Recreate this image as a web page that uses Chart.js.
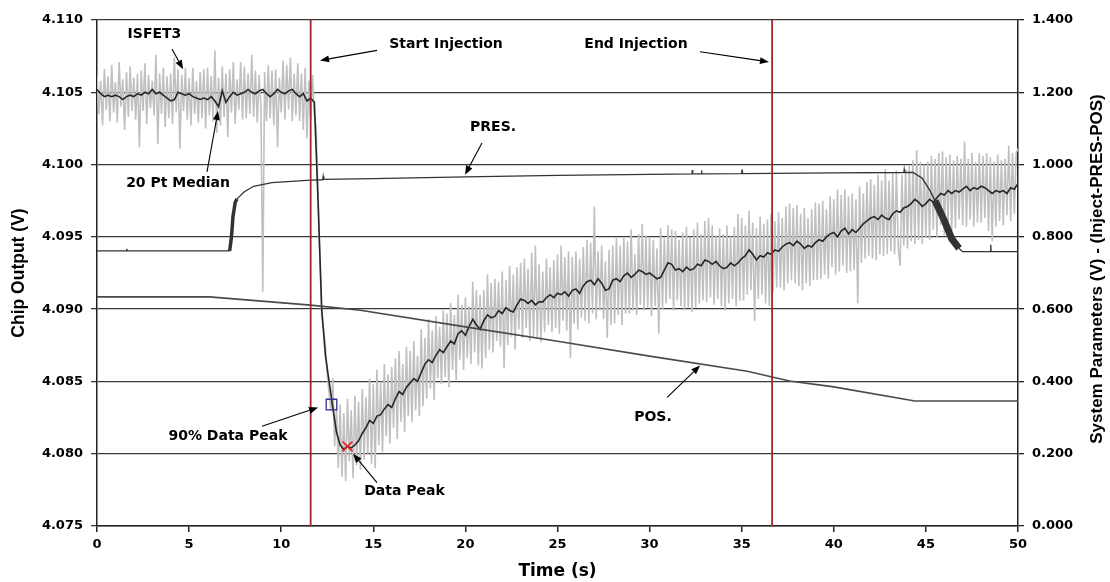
<!DOCTYPE html>
<html>
<head>
<meta charset="utf-8">
<script src="https://cdn.jsdelivr.net/npm/chart.js@4.4.1/dist/chart.umd.min.js"></script>
<style>
  html, body { margin: 0; padding: 0; background: #fff; }
</style>
</head>
<body>
<canvas id="chart" width="1110" height="582"></canvas>
<script>
// sample grids: raw trace every 0.1 s, median every 0.2 s, 0 to 50 s
const rawTimes = Array.from({ length: 501 }, (_, i) => i / 10);
const medianTimes = Array.from({ length: 251 }, (_, i) => i / 5);

// ISFET3 raw output (V), one row per second (t = k.0 ... k.9)
const isfetRaw = [
  4.1062,4.1035,4.1058,4.1027,4.1066,4.1038,4.1061,4.1030,4.1069,4.1036,
  4.1057,4.1029,4.1071,4.1040,4.1059,4.1024,4.1064,4.1033,4.1068,4.1037,
  4.1060,4.1031,4.1063,4.1012,4.1065,4.1037,4.1070,4.1028,4.1062,4.1039,
  4.1058,4.1034,4.1076,4.1014,4.1063,4.1035,4.1067,4.1026,4.1061,4.1032,
  4.1063,4.1028,4.1074,4.1036,4.1066,4.1011,4.1062,4.1037,4.1067,4.1031,
  4.1060,4.1027,4.1067,4.1035,4.1058,4.1029,4.1064,4.1032,4.1066,4.1025,
  4.1067,4.1034,4.1061,4.1030,4.1079,4.1022,4.1060,4.1027,4.1068,4.1033,
  4.1063,4.1019,4.1066,4.1036,4.1071,4.1028,4.1059,4.1038,4.1071,4.1031,
  4.1068,4.1032,4.1063,4.1035,4.1076,4.1033,4.1065,4.1029,4.1062,4.1040,
  4.0912,4.1064,4.1030,4.1069,4.1032,4.1065,4.1027,4.1066,4.1012,4.1060,
  4.1036,4.1072,4.1031,4.1069,4.1038,4.1074,4.1030,4.1063,4.1034,4.1070,
  4.1030,4.1063,4.1024,4.1067,4.1018,4.1058,4.1031,4.1062,4.1035,4.1025,
  4.0980,4.0935,4.0895,4.0886,4.0875,4.0855,4.0842,4.0830,4.0852,4.0805,
  4.0832,4.0790,4.0834,4.0784,4.0828,4.0781,4.0838,4.0795,4.0830,4.0783,
  4.0840,4.0792,4.0836,4.0789,4.0845,4.0796,4.0839,4.0800,4.0852,4.0793,
  4.0848,4.0790,4.0858,4.0806,4.0850,4.0801,4.0862,4.0812,4.0855,4.0807,
  4.0860,4.0818,4.0866,4.0810,4.0871,4.0822,4.0862,4.0815,4.0874,4.0826,
  4.0871,4.0822,4.0878,4.0830,4.0868,4.0826,4.0886,4.0833,4.0880,4.0838,
  4.0893,4.0845,4.0885,4.0837,4.0895,4.0852,4.0888,4.0848,4.0899,4.0853,
  4.0897,4.0846,4.0904,4.0858,4.0896,4.0851,4.0910,4.0865,4.0903,4.0858,
  4.0908,4.0866,4.0902,4.0862,4.0919,4.0870,4.0913,4.0861,4.0910,4.0859,
  4.0913,4.0866,4.0924,4.0872,4.0918,4.0870,4.0921,4.0878,4.0919,4.0874,
  4.0926,4.0859,4.0920,4.0875,4.0930,4.0881,4.0924,4.0872,4.0929,4.0886,
  4.0932,4.0880,4.0935,4.0887,4.0928,4.0878,4.0939,4.0881,4.0944,4.0880,
  4.0931,4.0877,4.0926,4.0884,4.0935,4.0889,4.0929,4.0884,4.0934,4.0887,
  4.0938,4.0883,4.0944,4.0892,4.0936,4.0885,4.0940,4.0866,4.0936,4.0890,
  4.0940,4.0886,4.0935,4.0894,4.0943,4.0892,4.0948,4.0890,4.0946,4.0897,
  4.0971,4.0893,4.0940,4.0899,4.0944,4.0893,4.0933,4.0880,4.0941,4.0889,
  4.0944,4.0890,4.0949,4.0896,4.0944,4.0889,4.0950,4.0897,4.0947,4.0897,
  4.0955,4.0899,4.0938,4.0896,4.0952,4.0903,4.0959,4.0899,4.0951,4.0901,
  4.0950,4.0895,4.0948,4.0902,4.0942,4.0883,4.0956,4.0900,4.0949,4.0904,
  4.0958,4.0907,4.0955,4.0899,4.0954,4.0906,4.0948,4.0902,4.0953,4.0899,
  4.0957,4.0901,4.0950,4.0898,4.0955,4.0901,4.0960,4.0904,4.0952,4.0906,
  4.0961,4.0905,4.0963,4.0908,4.0958,4.0903,4.0951,4.0907,4.0956,4.0902,
  4.0952,4.0899,4.0958,4.0904,4.0951,4.0907,4.0957,4.0902,4.0966,4.0906,
  4.0963,4.0906,4.0958,4.0910,4.0968,4.0913,4.0960,4.0892,4.0956,4.0907,
  4.0964,4.0910,4.0959,4.0904,4.0962,4.0902,4.0966,4.0912,4.0961,4.0915,
  4.0967,4.0915,4.0963,4.0913,4.0971,4.0918,4.0973,4.0920,4.0970,4.0918,
  4.0972,4.0916,4.0966,4.0913,4.0970,4.0918,4.0963,4.0916,4.0969,4.0920,
  4.0974,4.0920,4.0973,4.0921,4.0975,4.0924,4.0969,4.0921,4.0978,4.0929,
  4.0976,4.0924,4.0983,4.0926,4.0979,4.0930,4.0983,4.0925,4.0978,4.0926,
  4.0980,4.0927,4.0976,4.0904,4.0985,4.0932,4.0980,4.0935,4.0988,4.0937,
  4.0990,4.0935,4.0986,4.0934,4.0993,4.0938,4.0989,4.0937,4.0997,4.0938,
  4.0989,4.0940,4.0994,4.0938,4.0996,4.0942,4.0930,4.0993,4.0944,4.0997,
  4.0942,4.0999,4.0947,4.1003,4.0945,4.1010,4.0948,4.1002,4.0945,4.1000,
  4.0950,4.1002,4.0948,4.1006,4.0955,4.1004,4.0950,4.1008,4.0958,4.1009,
  4.0951,4.1005,4.0960,4.1007,4.0954,4.1003,4.0956,4.1006,4.0962,4.1004,
  4.0958,4.1016,4.0957,4.1004,4.0962,4.1008,4.0957,4.1002,4.0960,4.1008,
  4.0960,4.1006,4.0963,4.1008,4.0954,4.1005,4.0947,4.1002,4.0957,4.1007,
  4.0961,4.1003,4.0958,4.1004,4.0965,4.1013,4.0961,4.1008,4.0966,4.1008,
  4.1011
];

// 20 point median of the same trace (V), every 0.2 s
const isfetMedian = [
  4.1052,4.1049,4.1047,4.1048,4.1047,4.1048,4.1047,4.1045,4.1047,4.1048,
  4.1047,4.1049,4.1048,4.1050,4.1049,4.1052,4.1049,4.1050,4.1048,4.1046,
  4.1044,4.1045,4.1050,4.1049,4.1048,4.1049,4.1047,4.1046,4.1045,4.1046,
  4.1045,4.1047,4.1044,4.1040,4.1051,4.1043,4.1047,4.1050,4.1048,4.1049,
  4.1050,4.1052,4.1050,4.1049,4.1051,4.1052,4.1049,4.1047,4.1049,4.1052,
  4.1050,4.1049,4.1051,4.1052,4.1049,4.1047,4.1049,4.1044,4.1046,4.1043,
  4.0975,4.0900,4.0868,4.0850,4.0832,4.0815,4.0806,4.0803,4.0805,4.0804,
  4.0806,4.0809,4.0814,4.0818,4.0823,4.0821,4.0826,4.0827,4.0831,4.0834,
  4.0832,4.0838,4.0843,4.0841,4.0846,4.0849,4.0852,4.0850,4.0856,4.0862,
  4.0865,4.0863,4.0868,4.0872,4.0870,4.0874,4.0878,4.0876,4.0883,4.0885,
  4.0882,4.0888,4.0893,4.0889,4.0886,4.0892,4.0896,4.0894,4.0895,4.0899,
  4.0897,4.0901,4.0899,4.0898,4.0903,4.0907,4.0906,4.0904,4.0906,4.0903,
  4.0905,4.0905,4.0908,4.0910,4.0908,4.0911,4.0910,4.0912,4.0909,4.0913,
  4.0914,4.0911,4.0916,4.0919,4.0920,4.0917,4.0921,4.0918,4.0913,4.0914,
  4.0920,4.0921,4.0919,4.0923,4.0925,4.0922,4.0924,4.0927,4.0926,4.0924,
  4.0925,4.0923,4.0921,4.0922,4.0927,4.0932,4.0931,4.0927,4.0928,4.0926,
  4.0929,4.0927,4.0928,4.0931,4.0930,4.0934,4.0933,4.0931,4.0933,4.0930,
  4.0928,4.0929,4.0932,4.0930,4.0932,4.0935,4.0937,4.0941,4.0938,4.0934,
  4.0937,4.0936,4.0939,4.0938,4.0941,4.0940,4.0943,4.0945,4.0946,4.0944,
  4.0947,4.0945,4.0942,4.0944,4.0943,4.0946,4.0948,4.0947,4.0950,4.0952,
  4.0953,4.0950,4.0954,4.0956,4.0952,4.0955,4.0953,4.0956,4.0959,4.0961,
  4.0963,4.0964,4.0962,4.0965,4.0963,4.0962,4.0966,4.0968,4.0967,4.0970,
  4.0971,4.0973,4.0976,4.0974,4.0971,4.0973,4.0976,4.0974,4.0977,4.0980,
  4.0979,4.0982,4.0980,4.0982,4.0981,4.0983,4.0985,4.0982,4.0984,4.0983,
  4.0985,4.0984,4.0982,4.0980,4.0982,4.0981,4.0982,4.0980,4.0984,4.0983,
  4.0987
];

// system parameters on the right axis (V)
const presTimes = [0,1.6,1.62,1.64,7.2,7.3,7.38,7.5,7.6,8.0,8.5,9.5,11.6,12.25,12.28,12.31,15,20,25,30,
  32.3,32.32,32.34,32.8,32.82,32.84,35.0,35.02,35.04,40,43.8,43.82,43.84,44.3,44.8,45.2,45.5,46.0,46.4,46.8,47.0,
  48.5,48.52,48.54,50];
const presValues = [0.761,0.761,0.767,0.761,0.761,0.800,0.855,0.895,0.905,0.925,0.940,0.950,0.957,0.958,0.968,0.959,0.961,0.966,0.970,0.973,
  0.974,0.985,0.974,0.974,0.984,0.974,0.975,0.986,0.975,0.977,0.978,0.986,0.978,0.978,0.962,0.930,0.900,0.845,0.795,0.768,0.759,
  0.759,0.778,0.759,0.759];
const posTimes = [0,6.1,11.6,14.3,20,25,30,35.3,37.6,40,44.4,50];
const posValues = [0.634,0.634,0.611,0.597,0.551,0.511,0.470,0.428,0.401,0.385,0.346,0.346];

// injection start / end and the two peak markers
const injectionTimes = [11.6, 36.65];
const peak90Time = [12.73];
const peak90Value = [4.0834];
const dataPeakTime = [13.6];
const dataPeakValue = [4.0805];

const xTicks = { min: 0, max: 50, step: 5 };
const leftTicks = { min: 4.075, max: 4.110, step: 0.005 };
const rightTicks = { min: 0, max: 1.4, step: 0.2 };

const rightTitle = 'System Parameters (V) - (Inject-PRES-POS)';

// callouts: text centre and arrow (from -> to), in data units of the left axis
const notes = [
  { text: 'ISFET3', at: [3.12, 4.1090], from: [4.07, 4.1080], to: [4.67, 4.1066] },
  { text: '20 Pt Median', at: [4.40, 4.0987], from: [5.97, 4.0995], to: [6.57, 4.1037] },
  { text: 'Start Injection', at: [18.95, 4.1083], from: [15.20, 4.1079], to: [12.11, 4.1072] },
  { text: 'End Injection', at: [29.26, 4.1083], from: [32.74, 4.1078], to: [36.48, 4.1071] },
  { text: 'PRES.', at: [21.50, 4.1026], from: [20.90, 4.1015], to: [19.98, 4.0993] },
  { text: 'POS.', at: [30.18, 4.0825], from: [30.95, 4.0839], to: [32.74, 4.0861] },
  { text: '90% Data Peak', at: [7.11, 4.0812], from: [8.96, 4.0819], to: [12.00, 4.0832] },
  { text: 'Data Peak', at: [16.69, 4.0774], from: [15.20, 4.0780], to: [13.90, 4.0800] }
];

const zip = (xs, ys) => xs.map((x, i) => ({ x: x, y: ys[i] }));

const tickFont = { family: "'DejaVu Sans'", weight: 'bold', size: 13 };
const sideTitleFont = { family: "'Liberation Sans'", weight: 'bold', size: 17.5 };

const drawArrow = (ctx, x0, y0, x1, y1) => {
  const ang = Math.atan2(y1 - y0, x1 - x0);
  const len = 9, half = 3.5;
  const bx = x1 - len * Math.cos(ang), by = y1 - len * Math.sin(ang);
  ctx.beginPath();
  ctx.moveTo(x0, y0);
  ctx.lineTo(bx, by);
  ctx.stroke();
  ctx.beginPath();
  ctx.moveTo(x1, y1);
  ctx.lineTo(bx + half * Math.sin(ang), by - half * Math.cos(ang));
  ctx.lineTo(bx - half * Math.sin(ang), by + half * Math.cos(ang));
  ctx.closePath();
  ctx.fill();
};

const notesPlugin = {
  id: 'notes',
  afterDatasetsDraw(chart) {
    const { ctx, scales: { x, y } } = chart;
    ctx.save();
    ctx.fillStyle = '#000';
    ctx.strokeStyle = '#000';
    ctx.lineWidth = 1.1;
    ctx.font = "bold 14px 'DejaVu Sans'";
    ctx.textAlign = 'center';
    ctx.textBaseline = 'middle';
    notes.forEach(n => {
      ctx.fillText(n.text, x.getPixelForValue(n.at[0]), y.getPixelForValue(n.at[1]));
      drawArrow(ctx,
        x.getPixelForValue(n.from[0]), y.getPixelForValue(n.from[1]),
        x.getPixelForValue(n.to[0]), y.getPixelForValue(n.to[1]));
    });
    ctx.restore();
  },
  afterDraw(chart) {
    // right axis title reads bottom to top
    const { ctx, chartArea } = chart;
    ctx.save();
    ctx.translate(chart.width - 13, (chartArea.top + chartArea.bottom) / 2 - 4);
    ctx.rotate(-Math.PI / 2);
    ctx.font = "bold 17px 'Liberation Sans'";
    ctx.fillStyle = '#000';
    ctx.textAlign = 'center';
    ctx.textBaseline = 'middle';
    ctx.fillText(rightTitle, 0, 0);
    ctx.restore();
  }
};

const lineDefaults = { pointRadius: 0, tension: 0, fill: false };

new Chart(document.getElementById('chart'), {
  type: 'line',
  data: {
    datasets: [
      {
        label: 'Data Peak', type: 'scatter', data: zip(dataPeakTime, dataPeakValue), yAxisID: 'y',
        pointStyle: 'crossRot', pointRadius: 7, borderColor: '#ee1c1c', borderWidth: 1.6, backgroundColor: 'transparent'
      },
      {
        label: '90% Data Peak', type: 'scatter', data: zip(peak90Time, peak90Value), yAxisID: 'y',
        pointStyle: 'rect', pointRadius: 7.5, borderColor: '#2e3192', borderWidth: 1.3, backgroundColor: 'transparent'
      },
      ...injectionTimes.map(t => ({
        ...lineDefaults, label: 'inj ' + t, yAxisID: 'y',
        data: [{ x: t, y: leftTicks.min }, { x: t, y: leftTicks.max }],
        borderColor: '#a3262a', borderWidth: 1.8
      })),
      {
        ...lineDefaults, label: 'POS.', yAxisID: 'y2', data: zip(posTimes, posValues),
        borderColor: '#4a4a4a', borderWidth: 1.6
      },
      {
        ...lineDefaults, label: 'PRES.', yAxisID: 'y2', data: zip(presTimes, presValues),
        borderColor: '#333', borderWidth: 1.3,
        segment: {
          borderWidth: c => {
            const t = c.p0.parsed.x;
            if (t >= 45.4 && t < 46.8) return 7;
            if (t >= 7.2 && t < 7.6) return 3.5;
            return 1.3;
          }
        }
      },
      {
        ...lineDefaults, label: '20 Pt Median', yAxisID: 'y', data: zip(medianTimes, isfetMedian),
        borderColor: '#262626', borderWidth: 1.6
      },
      {
        ...lineDefaults, label: 'ISFET3', yAxisID: 'y', data: zip(rawTimes, isfetRaw),
        borderColor: '#c0c0c0', borderWidth: 1.6, borderJoinStyle: 'bevel'
      }
    ]
  },
  options: {
    responsive: false,
    animation: false,
    layout: { padding: { top: 20, left: 0, right: 0, bottom: 0 } },
    plugins: { legend: { display: false }, tooltip: { enabled: false } },
    scales: {
      x: {
        type: 'linear', min: xTicks.min, max: xTicks.max,
        ticks: { stepSize: xTicks.step, color: '#000', font: tickFont, padding: 5 },
        grid: { display: true, drawOnChartArea: false, drawTicks: true, tickLength: 6, color: '#222', lineWidth: 1.5 },
        border: { display: true, color: '#222', width: 1.5 },
        title: { display: true, text: 'Time (s)', color: '#000', font: { family: "'DejaVu Sans'", weight: 'bold', size: 17 }, padding: { top: 0, bottom: 0 } },
        afterFit: s => { s.height = 56; }
      },
      y: {
        type: 'linear', position: 'left', min: leftTicks.min, max: leftTicks.max,
        ticks: { stepSize: leftTicks.step, color: '#000', font: tickFont, padding: 8, callback: v => v.toFixed(3) },
        grid: { color: '#3a3a3a', lineWidth: 1.3, tickLength: 6, drawTicks: true },
        border: { display: true, color: '#222', width: 1.5 },
        title: { display: true, text: 'Chip Output (V)', color: '#000', font: sideTitleFont, padding: { top: 9, bottom: 0 } },
        afterFit: s => { s.width = 97; }
      },
      y2: {
        type: 'linear', position: 'right', min: rightTicks.min, max: rightTicks.max,
        ticks: { stepSize: rightTicks.step, color: '#000', font: tickFont, padding: 8, callback: v => v.toFixed(3) },
        grid: { drawOnChartArea: false, tickLength: 6, drawTicks: true, color: '#222', lineWidth: 1.3 },
        border: { display: true, color: '#222', width: 1.5 },
        afterFit: s => { s.width = 92; }
      }
    }
  },
  plugins: [notesPlugin]
});
</script>
</body>
</html>
